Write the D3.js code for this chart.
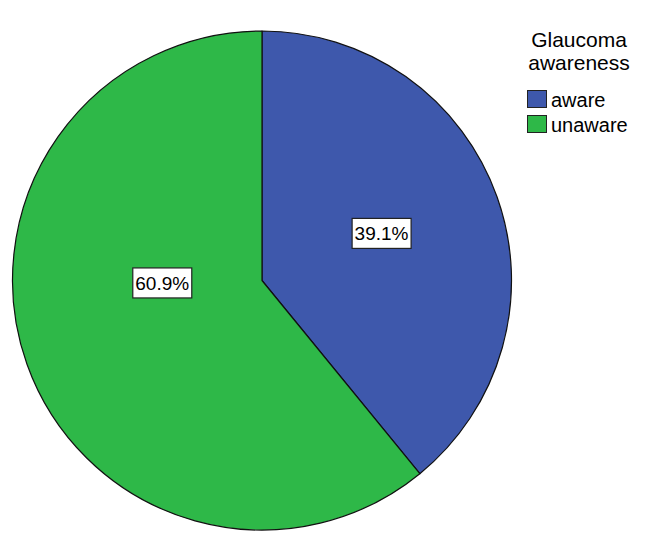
<!DOCTYPE html>
<html>
<head>
<meta charset="utf-8">
<script src="https://cdn.jsdelivr.net/npm/d3@7"></script>
<style>
  html, body { margin: 0; padding: 0; background: #fff; }
  svg { display: block; }
  text { font-family: "Liberation Sans", Arial, sans-serif; fill: #000; }
</style>
</head>
<body>
<svg id="chart" width="649" height="547"></svg>
<script>
// ---- data ----
const categories = ["aware", "unaware"];
const percents = [39.1, 60.9];
const colors = ["#3e58ac", "#2eb848"];
const legendTitle = ["Glaucoma", "awareness"];

// ---- layout (not data) ----
const W = 649, H = 547;
const cx = 262, cy = 280.5, R = 249.5;
// label anchor: angle (deg, clockwise from top) and radius fraction
const labelPlacement = [
  { angle: 68.5, frac: 0.515 },
  { angle: 268.6, frac: 0.40 }
];

const svg = d3.select("#chart");
const g = svg.append("g").attr("transform", `translate(${cx},${cy})`);

const pie = d3.pie().sort(null).value(d => d.value);
const arcs = pie(categories.map((c, i) => ({ name: c, value: percents[i], color: colors[i] })));
const arc = d3.arc().innerRadius(0).outerRadius(R);

g.selectAll("path.slice")
  .data(arcs)
  .join("path")
  .attr("class", "slice")
  .attr("d", arc)
  .attr("fill", d => d.data.color)
  .attr("stroke", "#111")
  .attr("stroke-width", 1.2)
  .attr("stroke-linejoin", "round");

// percent labels with boxes
const lbl = g.selectAll("g.lbl")
  .data(arcs)
  .join("g")
  .attr("class", "lbl")
  .attr("transform", (d, i) => {
    const p = labelPlacement[i];
    const a = p.angle * Math.PI / 180;
    const r = R * p.frac;
    return `translate(${r * Math.sin(a)},${-r * Math.cos(a)})`;
  });

lbl.each(function(d) {
  const s = d3.select(this);
  const rect = s.append("rect");
  const t = s.append("text")
    .attr("text-anchor", "middle")
    .attr("dy", "0.36em")
    .style("font-size", "19px")
    .text(d.data.value.toFixed(1) + "%");
  const bb = t.node().getBBox();
  const padX = 2.5;
  rect.attr("x", bb.x - padX)
      .attr("y", -15)
      .attr("width", bb.width + 2 * padX)
      .attr("height", 30)
      .attr("fill", "#fff")
      .attr("stroke", "#222")
      .attr("stroke-width", 1.2);
});

// legend
const legend = svg.append("g");
legend.selectAll("text.title")
  .data(legendTitle)
  .join("text")
  .attr("class", "title")
  .attr("x", 579)
  .attr("y", (d, i) => 47 + i * 23)
  .attr("text-anchor", "middle")
  .style("font-size", "21px")
  .text(d => d);

const items = legend.selectAll("g.item")
  .data(categories)
  .join("g")
  .attr("class", "item")
  .attr("transform", (d, i) => `translate(527,${90 + i * 25})`);

items.append("rect")
  .attr("x", 0.5).attr("y", 0.5)
  .attr("width", 19).attr("height", 17)
  .attr("fill", (d, i) => colors[i])
  .attr("stroke", "#222")
  .attr("stroke-width", 1);

items.append("text")
  .attr("x", 24)
  .attr("y", 17)
  .style("font-size", "20px")
  .text(d => d);
</script>
</body>
</html>
